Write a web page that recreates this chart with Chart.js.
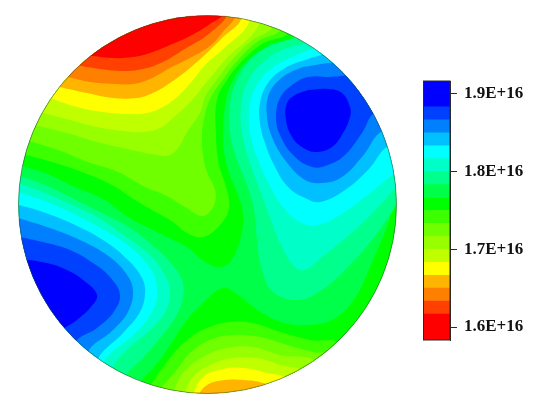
<!DOCTYPE html>
<html lang="en">
<head>
<meta charset="UTF-8">
<title>Wafer contour map</title>
<script src="https://cdn.jsdelivr.net/npm/chart.js@4"></script>
<style>
    html, body { margin: 0; padding: 0; background: #fff; }
    #wrap { position: relative; width: 554px; height: 404px; overflow: hidden; }
    canvas { position: absolute; top: 0; }
    #map { left: 0; }
    #bar { left: 423px; }
</style>
</head>
<body>
<div id="wrap">
    <canvas id="map" width="554" height="404"></canvas>
    <canvas id="bar" width="131" height="404"></canvas>
</div>
<script>
// legend, low to high
const bandColors = ['#ff0000', '#ff4000', '#ff8000', '#ffb400', '#ffff00', '#c0ff00', '#98ff00', '#70ff00', '#3cff00',
    '#00ff00', '#00ff48', '#00ff8c', '#00ffc8', '#00ffff', '#00c0ff', '#0080ff', '#0040ff', '#0000ff'];
const bandEdges = [1.5833e16, 1.6167e16, 1.6333e16, 1.65e16, 1.6667e16, 1.6833e16, 1.7e16, 1.7167e16, 1.7333e16, 1.75e16,
    1.7667e16, 1.7833e16, 1.8e16, 1.8167e16, 1.8333e16, 1.85e16, 1.8667e16, 1.8833e16, 1.9167e16];
const tickValues = [1.6e16, 1.7e16, 1.8e16, 1.9e16];
const tickLabels = ['1.6E+16', '1.7E+16', '1.8E+16', '1.9E+16'];

// wafer centre and radius, same units as the contour lines
const waferX = 207.5, waferY = 204.5, waferR = 189;

// contour lines, [x, y]. topN = edge of bands <= N-1 in the upper low area
const top1 = [[85,55],[113,58],[133,57],[150,53],[170,45],[190,36],[210,24],[224,12]];
const top2 = [[76,65],[100,69],[123,71],[143,69],[163,62],[183,50],[210,33],[228,12]];
const top3 = [[68,77],[90,82],[113,84],[133,84],[150,79],[170,68],[190,58],[210,46],[222,33],[236,14]];
const top4 = [[59,87],[87,93],[113,98],[137,98],[153,93],[170,83],[190,68],[210,50],[222,38],[242,17]];
const top5 = [[50,98],[77,107],[103,112],[127,114],[147,113],[163,107],[177,97],[193,80],[205,65],[222,50],[250,20]];
const top6 = [[40,112],[70,120],[97,127],[123,131],[143,132],[160,128],[173,118],[192,100],[205,84],[225,60],[260,22]];
const top7 = [[34,125],[67,133],[97,142],[127,149],[157,155],[170,155],[180,145],[187,132],[200,113],[205,97],[218,78],[232,60],[250,42],[274,24]];
const top8 = [[26,140],[58,150],[88,162],[118,172],[145,187],[165,195],[185,207],[203,216],[214,205],[215,190],[207,172],[203,155],[202,135],[205,115],[211,97],[224,78],[238,60],[257,42],[282,27]];
const top9 = [[20,153],[52,162],[82,172],[112,185],[135,200],[152,210],[173,222],[187,233],[203,237],[220,225],[229,208],[226,187],[219,165],[216,135],[217,100],[227,80],[243,60],[262,44],[290,30]];
const top10 = [[18,165],[45,173],[75,187],[105,200],[128,217],[163,235],[187,247],[205,262],[219,267],[230,262],[240,240],[243,215],[238,195],[228,170],[223,140],[226,100],[234,78],[248,60],[270,45],[296,33]];

// low area at the bottom edge
const bot4 = [[197,396],[207,385],[225,380],[243,380],[263,383],[274,390]];
const bot5 = [[192,396],[203,377],[223,369],[243,368],[263,372],[289,382]];
const bot6 = [[184,395],[193,377],[210,365],[233,358],[257,358],[280,365],[302,373]];
const bot7 = [[173,392],[183,373],[203,357],[227,348],[253,347],[280,355],[317,364]];
const bot8 = [[160,389],[175,372],[190,353],[210,340],[233,335],[260,337],[287,345],[313,352],[330,356]];
const bot9 = [[150,386],[170,358],[187,340],[207,328],[230,322],[253,323],[280,332],[310,340],[340,346]];
const bot10 = [[140,382],[160,360],[170,345],[187,320],[203,303],[223,288],[238,295],[262,313],[285,323],[305,325],[332,320],[355,298],[372,262],[387,227],[399,196]];

// high area upper right
const right11 = [[304,36],[272,45],[252,58],[238,78],[230,103],[230,133],[237,160],[247,185],[254,210],[257,240],[262,270],[273,292],[298,300],[322,290],[348,267],[372,240],[392,212],[400,200]];
const right12 = [[310,42],[282,50],[262,63],[247,83],[241,107],[242,133],[249,160],[260,190],[270,218],[282,247],[295,267],[305,270],[322,257],[355,230],[385,200],[400,186]];
const right13 = [[318,47],[292,57],[272,68],[258,83],[250,103],[250,133],[257,157],[268,182],[283,207],[300,222],[318,225],[343,213],[370,193],[392,175],[402,168]];
const right14 = [[325,54],[305,60],[285,68],[268,83],[260,103],[260,123],[265,143],[274,165],[288,187],[305,198],[320,202],[345,190],[368,170],[391,145]];
const right15 = [[336,62],[315,65],[295,70],[277,82],[268,97],[267,117],[272,137],[285,160],[305,180],[322,183],[342,177],[362,157],[385,130]];
const right16 = [[352,75],[328,77],[308,77],[292,85],[280,98],[276,117],[280,135],[293,155],[312,167],[328,165],[345,155],[362,133],[377,112]];
const right17 = [[308,90],[328,89],[342,93],[350,107],[350,117],[343,133],[332,147],[315,152],[302,147],[292,137],[286,120],[287,103],[295,95],[308,90]];

// high area lower left
const left11 = [[15,174],[45,185],[72,198],[102,213],[127,226],[150,243],[170,262],[182,280],[183,297],[175,318],[160,338],[143,358],[126,376]];
const left12 = [[15,182],[45,193],[72,205],[97,217],[125,236],[150,255],[163,272],[170,290],[165,312],[150,330],[130,347],[112,369]];
const left13 = [[15,191],[42,200],[70,212],[97,226],[125,243],[150,268],[157,290],[152,312],[135,333],[102,365]];
const left14 = [[15,204],[43,212],[73,224],[103,240],[128,260],[142,278],[145,293],[140,312],[123,333],[97,361]];
const left15 = [[15,217],[50,228],[80,240],[107,255],[125,272],[133,290],[128,312],[113,330],[87,354]];
const left16 = [[15,236],[43,242],[70,250],[93,263],[110,277],[120,295],[113,313],[97,328],[75,344]];
const left17 = [[15,258],[47,263],[67,270],[83,280],[97,295],[90,308],[77,320],[62,333]];

const first = l => l[0], last = l => l[l.length - 1];
const aroundTop = l => [[last(l)[0], -30], [-30, -30], [-30, first(l)[1]]];
const aroundBot = l => [[last(l)[0], 440], [first(l)[0], 440]];
const aroundRight = l => [[440, last(l)[1]], [440, -30], [first(l)[0], -30]];
const aroundLeft = l => [[last(l)[0] - 20, 440], [-30, 440], [-30, first(l)[1]]];

function area(line, outer, band) {
    return {
        data: line.concat(outer).map(p => ({ x: p[0], y: p[1] })),
        backgroundColor: bandColors[band],
        borderWidth: 0,
        pointRadius: 0,
        showLine: true,
        tension: 0.4,
        fill: 'shape',
        clip: false
    };
}

// painter's order: base disc is band 10, then out to both ends of the scale
const layers = [
    area(top10, aroundTop(top10), 9), area(bot10, [[440, 196], [440, 440], [100, 440], [100, 385]], 9),
    area(top9, aroundTop(top9), 8), area(bot9, aroundBot(bot9), 8),
    area(top8, aroundTop(top8), 7), area(bot8, aroundBot(bot8), 7),
    area(top7, aroundTop(top7), 6), area(bot7, aroundBot(bot7), 6),
    area(top6, aroundTop(top6), 5), area(bot6, aroundBot(bot6), 5),
    area(top5, aroundTop(top5), 4), area(bot5, aroundBot(bot5), 4),
    area(top4, aroundTop(top4), 3), area(bot4, aroundBot(bot4), 3),
    area(top3, aroundTop(top3), 2),
    area(top2, aroundTop(top2), 1),
    area(top1, aroundTop(top1), 0),
    area(right11, aroundRight(right11), 11), area(left11, aroundLeft(left11), 11),
    area(right12, aroundRight(right12), 12), area(left12, aroundLeft(left12), 12),
    area(right13, aroundRight(right13), 13), area(left13, aroundLeft(left13), 13),
    area(right14, aroundRight(right14), 14), area(left14, aroundLeft(left14), 14),
    area(right15, aroundRight(right15), 15), area(left15, aroundLeft(left15), 15),
    area(right16, aroundRight(right16), 16), area(left16, aroundLeft(left16), 16),
    area(right17, [], 17), area(left17, aroundLeft(left17), 17)
];

function discPath(chart) {
    const sx = chart.scales.x, sy = chart.scales.y;
    const r = sx.getPixelForValue(waferX + waferR) - sx.getPixelForValue(waferX);
    chart.ctx.beginPath();
    chart.ctx.arc(sx.getPixelForValue(waferX), sy.getPixelForValue(waferY), r, 0, Math.PI * 2);
}

const waferDisc = {
    id: 'waferDisc',
    beforeDatasetsDraw(chart) {
        const ctx = chart.ctx;
        ctx.save();
        discPath(chart);
        ctx.fillStyle = bandColors[10];
        ctx.fill();
        ctx.clip();
    },
    afterDatasetsDraw(chart) {
        const ctx = chart.ctx;
        ctx.restore();
        discPath(chart);
        ctx.strokeStyle = 'rgba(50,60,40,0.7)';
        ctx.lineWidth = 0.7;
        ctx.stroke();
    }
};

new Chart(document.getElementById('map'), {
    type: 'scatter',
    data: { datasets: layers.slice().reverse() },
    options: {
        responsive: false,
        animation: false,
        devicePixelRatio: 1,
        layout: { padding: { left: 18.5, top: 15.5, right: 157.5, bottom: 10.5 } },
        elements: { line: { capBezierPoints: false } },
        plugins: { legend: { display: false }, tooltip: { enabled: false } },
        scales: {
            x: { display: false, min: 18.5, max: 396.5 },
            y: { display: false, min: 15.5, max: 393.5, reverse: true }
        }
    },
    plugins: [waferDisc]
});

const barFrame = {
    id: 'barFrame',
    afterDatasetsDraw(chart) {
        const a = chart.chartArea, ctx = chart.ctx;
        ctx.save();
        ctx.strokeStyle = '#2a2a2a';
        ctx.lineWidth = 1;
        ctx.strokeRect(a.left, a.top, a.width, a.height);
        ctx.restore();
    }
};

new Chart(document.getElementById('bar'), {
    type: 'bar',
    data: {
        labels: [''],
        datasets: bandColors.map((c, i) => ({
            data: [[bandEdges[i], bandEdges[i + 1]]],
            backgroundColor: c,
            borderWidth: 0,
            grouped: false,
            barPercentage: 1,
            categoryPercentage: 1
        }))
    },
    options: {
        responsive: false,
        animation: false,
        devicePixelRatio: 1,
        layout: { padding: { left: 0.5, top: 81, right: 0, bottom: 64 } },
        plugins: { legend: { display: false }, tooltip: { enabled: false } },
        scales: {
            x: { display: false },
            y: {
                position: 'right',
                min: bandEdges[0],
                max: bandEdges[bandEdges.length - 1],
                afterBuildTicks(s) { s.ticks = tickValues.map(v => ({ value: v })); },
                afterFit(s) { s.width = 104; },
                grid: { drawOnChartArea: false, color: '#2a2a2a', tickLength: 7 },
                border: { color: '#2a2a2a' },
                ticks: {
                    padding: 7,
                    color: '#111',
                    font: { family: '"Liberation Serif"', size: 17, weight: 'bold' },
                    callback: (v, i) => tickLabels[i]
                }
            }
        }
    },
    plugins: [barFrame]
});
</script>
</body>
</html>
